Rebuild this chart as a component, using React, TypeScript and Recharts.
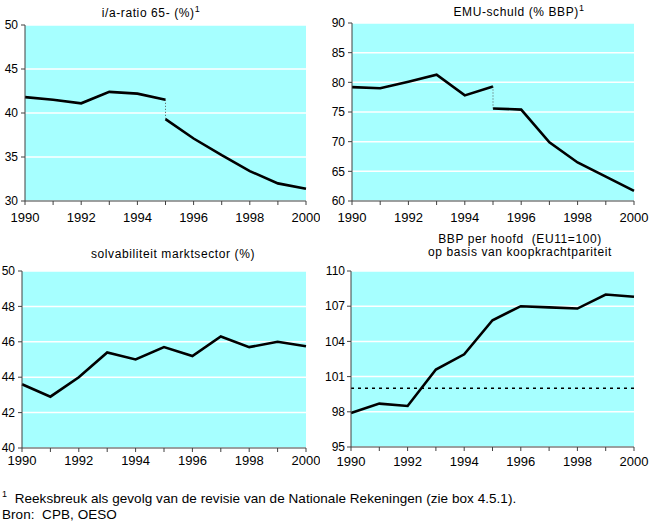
import React from 'react';
import {
  LineChart,
  Line,
  XAxis,
  YAxis,
  CartesianGrid,
  ReferenceLine
} from 'recharts';

const years = [1990, 1991, 1992, 1993, 1994, 1995, 1996, 1997, 1998, 1999, 2000];
const yearsBefore = [1990, 1991, 1992, 1993, 1994, 1995];
const yearsAfter = [1995, 1996, 1997, 1998, 1999, 2000];

// i/a-ratio 65- (%), series break in 1995
const iaRatioOld = [41.8, 41.5, 41.1, 42.4, 42.2, 41.5];
const iaRatioNew = [39.3, 37.1, 35.2, 33.4, 32.0, 31.4];

// EMU-schuld (% BBP), series break in 1995
const emuOld = [79.2, 79.0, 80.1, 81.3, 77.8, 79.3];
const emuNew = [75.6, 75.4, 69.9, 66.5, 64.1, 61.7];

const solvabiliteit = [43.6, 42.9, 44.0, 45.4, 45.0, 45.7, 45.2, 46.3, 45.7, 46.0, 45.75];
const bbpPerHoofd = [97.9, 98.7, 98.5, 101.6, 102.9, 105.8, 107.0, 106.9, 106.8, 108.0, 107.8];

const iaTicks = [30, 35, 40, 45, 50];
const emuTicks = [60, 65, 70, 75, 80, 85, 90];
const solvTicks = [40, 42, 44, 46, 48, 50];
const bbpTicks = [95, 98, 101, 104, 107, 110];

const CYAN = '#a6ffff';
const AXIS = '#404040';
const FONT = '"Liberation Sans", Arial, sans-serif';

const toRows = (xs: number[], vs: number[]) => xs.map((year, i) => ({ year, v: vs[i] }));

const axes = (yWidth: number, yTicks: number[], xTickMargin: number, yTickMargin = 3) => [
  <CartesianGrid key="g" vertical={false} fill={CYAN} fillOpacity={1} stroke="#ffffff" strokeWidth={1.5} />,
  <XAxis
    key="x"
    dataKey="year"
    type="number"
    domain={[1990, 2000]}
    ticks={years}
    interval={0}
    tickFormatter={(y: number) => (y % 2 === 0 ? String(y) : '')}
    tickSize={4}
    tickMargin={xTickMargin}
    axisLine={{ stroke: AXIS }}
    tickLine={{ stroke: AXIS }}
    tick={{ fill: '#000', fontSize: 13, fontFamily: FONT }}
    height={22}
    allowDuplicatedCategory={false}
  />,
  <YAxis
    key="y"
    type="number"
    width={yWidth}
    domain={[yTicks[0], yTicks[yTicks.length - 1]]}
    ticks={yTicks}
    interval={0}
    tickSize={4}
    tickMargin={yTickMargin}
    axisLine={{ stroke: AXIS }}
    tickLine={{ stroke: AXIS }}
    tick={{ fill: '#000', fontSize: 12, fontFamily: FONT }}
  />
];

const lineProps = {
  type: 'linear' as const,
  dataKey: 'v',
  stroke: '#000',
  strokeWidth: 2.6,
  dot: false,
  isAnimationActive: false
};

const titleStyle: React.CSSProperties = {
  position: 'absolute',
  fontFamily: FONT,
  fontSize: 12,
  letterSpacing: 0.6,
  color: '#000',
  textAlign: 'center',
  whiteSpace: 'nowrap',
  lineHeight: '13px'
};

const App: React.FC = () => {
  return (
    <div style={{ position: 'absolute', left: 0, top: 0, width: 654, height: 523, background: '#fff' }}>
      <div style={{ ...titleStyle, left: 51, width: 200, top: 3 }}>
        i/a-ratio 65- (%)<sup style={{ fontSize: 9 }}>1</sup>
      </div>
      <div style={{ ...titleStyle, left: 419, width: 200, top: 2 }}>
        EMU-schuld (% BBP)<sup style={{ fontSize: 9 }}>1</sup>
      </div>
      <div style={{ ...titleStyle, left: 73, width: 200, top: 248 }}>
        solvabiliteit marktsector (%)
      </div>
      <div style={{ ...titleStyle, left: 420, width: 200, top: 233 }}>
        BBP per hoofd&nbsp; (EU11=100)
        <br />
        op basis van koopkrachtpariteit
      </div>

      <div style={{ position: 'absolute', left: 0, top: 0 }}>
        <LineChart width={320} height={225} margin={{ top: 25, right: 14, bottom: 2, left: 0 }}>
          {axes(25, iaTicks, 8)}
          <Line {...lineProps} data={toRows(yearsBefore, iaRatioOld)} />
          <Line {...lineProps} data={toRows(yearsAfter, iaRatioNew)} />
          <Line
            {...lineProps}
            data={[{ year: 1995, v: iaRatioOld[5] }, { year: 1995, v: iaRatioNew[0] }]}
            stroke="#555"
            strokeWidth={1}
            strokeDasharray="1 2"
          />
        </LineChart>
      </div>

      <div style={{ position: 'absolute', left: 330, top: 0 }}>
        <LineChart width={324} height={225} margin={{ top: 23, right: 20, bottom: 2, left: 0 }}>
          {axes(22, emuTicks, 8)}
          <Line {...lineProps} data={toRows(yearsBefore, emuOld)} />
          <Line {...lineProps} data={toRows(yearsAfter, emuNew)} />
          <Line
            {...lineProps}
            data={[{ year: 1995, v: emuOld[5] }, { year: 1995, v: emuNew[0] }]}
            stroke="#555"
            strokeWidth={1}
            strokeDasharray="1 2"
          />
        </LineChart>
      </div>

      <div style={{ position: 'absolute', left: 0, top: 240 }}>
        <LineChart width={320} height={232} margin={{ top: 31, right: 14, bottom: 2, left: 0 }}>
          {axes(22, solvTicks, 4)}
          <Line {...lineProps} data={toRows(years, solvabiliteit)} />
        </LineChart>
      </div>

      <div style={{ position: 'absolute', left: 325, top: 240 }}>
        <LineChart width={329} height={231} margin={{ top: 31, right: 20, bottom: 2, left: 0 }}>
          {axes(26, bbpTicks, 6, 2)}
          <ReferenceLine y={100} stroke="#000" strokeWidth={1.5} strokeDasharray="3 4" />
          <Line {...lineProps} data={toRows(years, bbpPerHoofd)} />
        </LineChart>
      </div>

      <div style={{ position: 'absolute', left: 2, top: 486, fontFamily: FONT, fontSize: 13.5, letterSpacing: 0.05, lineHeight: '16px', color: '#000', whiteSpace: 'nowrap' }}>
        <sup style={{ fontSize: 9 }}>1</sup>&nbsp; Reeksbreuk als gevolg van de revisie van de Nationale Rekeningen (zie box 4.5.1).
        <br />
        Bron:&nbsp; CPB, OESO
      </div>
    </div>
  );
};

export default App;
